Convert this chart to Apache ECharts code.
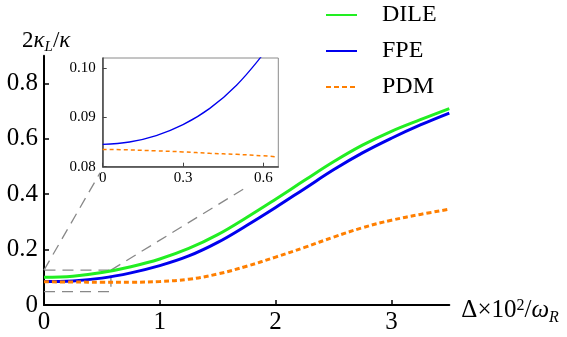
<!DOCTYPE html>
<html style="height: 100%">
   <head>
       <meta charset="utf-8">
   </head>
   <body style="height: 100%; margin: 0">
       <div id="container" style="height: 337px; width: 567px"></div>
       <script type="text/javascript" src="https://cdn.jsdelivr.net/npm/echarts/dist/echarts.min.js"></script>
       <script type="text/javascript">
// main panel, x = Delta*10^2/omega_R
var mainX = [0, 0.25, 0.5, 0.75, 1, 1.25, 1.5, 1.75, 2, 2.25, 2.5, 2.75, 3, 3.25, 3.5];
var dile = [0.100, 0.104, 0.117, 0.138, 0.166, 0.204, 0.254, 0.316, 0.382, 0.450, 0.517, 0.577, 0.627, 0.669, 0.709];
var fpe = [0.0845, 0.087, 0.097, 0.116, 0.142, 0.177, 0.226, 0.287, 0.352, 0.420, 0.488, 0.549, 0.602, 0.650, 0.693];
var pdm = [0.0837, 0.0830, 0.0822, 0.0820, 0.085, 0.093, 0.112, 0.140, 0.173, 0.208, 0.245, 0.279, 0.306, 0.327, 0.346];
var mainXTicks = [0, 1, 2, 3];
var mainYTicks = [0, 0.2, 0.4, 0.6, 0.8];

// inset (zoom on small detuning)
var insetX = [0, 0.1, 0.2, 0.3, 0.4, 0.5, 0.6, 0.65];
var fpeInset = [0.0845, 0.0850, 0.0863, 0.0885, 0.0918, 0.0965, 0.1028, 0.1065];
var pdmInset = [0.0835, 0.0834, 0.0832, 0.0830, 0.0827, 0.0825, 0.0822, 0.0820];
var insetXTicks = [0, 0.3, 0.6];
var insetYTicks = [0.08, 0.09, 0.10];

// dashed zoom marker and connectors (main-axis units)
var zoomBox = [[0, 0.048], [0.578, 0.048], [0.578, 0.126], [0, 0.126]];
var connLeft = [[0, 0.126], [0.484, 0.477]];
var connRight = [[0.578, 0.126], [1.736, 0.422]];

var serif = 'Liberation Serif, Times New Roman, serif';

function pairs(xs, ys) {
    var out = [];
    for (var i = 0; i < xs.length; i++) out.push([xs[i], ys[i]]);
    return out;
}

var dom = document.getElementById("container");
var myChart = echarts.init(dom);

var dashGray = {color: '#888', width: 1.3, type: [11, 7]};

function tok(size, italic, extra) {
    var t = {fontFamily: serif, fontSize: size, fontWeight: 'normal', fontStyle: italic ? 'italic' : 'normal',
             color: '#000', verticalAlign: 'top'};
    for (var k in extra) t[k] = extra[k];
    return t;
}

option = {
    animation: false,
    title: {
        text: '{n|2}{i|κ}{s|L}{n|/}{i|κ}',
        left: 17,
        top: 24,
        textStyle: {
            fontWeight: 'normal',
            rich: {
                n: tok(23, false, {lineHeight: 24}),
                i: tok(23, true, {lineHeight: 24}),
                s: tok(15, true, {lineHeight: 15, padding: [11, 0, 0, 0]})
            }
        }
    },
    legend: {
        orient: 'vertical',
        left: 325,
        top: 3,
        padding: 0,
        itemWidth: 31,
        itemHeight: 14,
        itemGap: 12,
        data: ['DILE', 'FPE', 'PDM'],
        itemStyle: {opacity: 0},
        textStyle: {fontFamily: serif, fontSize: 24, color: '#000', lineHeight: 24, padding: [0, 0, 0, 20]}
    },
    grid: [
        {left: 44, top: 55.7, width: 405.3, height: 249.3},
        {left: 102.7, top: 58, width: 175.6, height: 108.7, show: true,
         borderColor: '#8a8a8a', borderWidth: 1, backgroundColor: '#fff', z: 5}
    ],
    xAxis: [
        {
            type: 'value', gridIndex: 0, min: 0, max: 3.5,
            name: '{n|Δ×10}{sup|2}{n|/}{i|ω}{sub|R}',
            nameLocation: 'end', nameGap: 12,
            nameTextStyle: {
                padding: [10, 0, 0, 0],
                rich: {
                    n: tok(25, false, {lineHeight: 25}),
                    i: tok(25, true, {lineHeight: 25}),
                    sup: tok(16, false, {lineHeight: 16, padding: [0, 0, 12, 0]}),
                    sub: tok(16, true, {lineHeight: 16, padding: [12, 0, 0, 0]})
                }
            },
            axisLine: {lineStyle: {color: '#000', width: 2}},
            axisTick: {inside: true, length: 5, customValues: mainXTicks, lineStyle: {color: '#000', width: 1.5}},
            axisLabel: {customValues: mainXTicks, fontFamily: serif, fontSize: 25, color: '#000', margin: 5},
            splitLine: {show: false}
        },
        {
            type: 'value', gridIndex: 1, min: 0, max: 0.656,
            axisLine: {onZero: false, lineStyle: {color: '#444', width: 1.5}},
            axisTick: {inside: true, length: 4, customValues: insetXTicks, lineStyle: {color: '#444', width: 1}},
            axisLabel: {customValues: insetXTicks, fontFamily: serif, fontSize: 15, color: '#000', margin: 4,
                formatter: function (v) { return v === 0 ? '0' : v.toFixed(1); }},
            splitLine: {show: false},
            z: 6
        }
    ],
    yAxis: [
        {
            type: 'value', gridIndex: 0, min: 0, max: 0.9,
            axisLine: {lineStyle: {color: '#000', width: 2}},
            axisTick: {inside: true, length: 5, customValues: mainYTicks, lineStyle: {color: '#000', width: 1.5}},
            axisLabel: {customValues: mainYTicks, fontFamily: serif, fontSize: 25, color: '#000', margin: 6,
                formatter: function (v) { return v === 0 ? '0' : v.toFixed(1); }},
            splitLine: {show: false}
        },
        {
            type: 'value', gridIndex: 1, min: 0.08, max: 0.102,
            axisLine: {onZero: false, lineStyle: {color: '#444', width: 1.5}},
            axisTick: {inside: true, length: 4, customValues: insetYTicks, lineStyle: {color: '#444', width: 1}},
            axisLabel: {customValues: insetYTicks, fontFamily: serif, fontSize: 15, color: '#000', margin: 7,
                formatter: function (v) { return v.toFixed(2); }},
            splitLine: {show: false},
            z: 6
        }
    ],
    series: [
        {name: 'box', type: 'line', xAxisIndex: 0, yAxisIndex: 0, data: zoomBox, symbol: 'none', silent: true, lineStyle: dashGray, z: 1},
        {name: 'connL', type: 'line', xAxisIndex: 0, yAxisIndex: 0, data: connLeft, symbol: 'none', silent: true, lineStyle: dashGray, z: 1},
        {name: 'connR', type: 'line', xAxisIndex: 0, yAxisIndex: 0, data: connRight, symbol: 'none', silent: true, lineStyle: dashGray, z: 1},
        {name: 'DILE', type: 'line', xAxisIndex: 0, yAxisIndex: 0, data: pairs(mainX, dile), smooth: 0.4, symbol: 'none',
         color: '#22ee22', lineStyle: {color: '#22ee22', width: 3}},
        {name: 'FPE', type: 'line', xAxisIndex: 0, yAxisIndex: 0, data: pairs(mainX, fpe), smooth: 0.4, symbol: 'none',
         color: '#0000ee', lineStyle: {color: '#0000ee', width: 3}},
        {name: 'PDM', type: 'line', xAxisIndex: 0, yAxisIndex: 0, data: pairs(mainX, pdm), smooth: 0.4, symbol: 'none',
         color: '#ff7f00', lineStyle: {color: '#ff7f00', width: 3, type: [5, 3]}},
        {name: 'FPE inset', type: 'line', xAxisIndex: 1, yAxisIndex: 1, data: pairs(insetX, fpeInset), smooth: 0.4, symbol: 'none',
         clip: true, lineStyle: {color: '#0000ee', width: 1.3}, z: 7},
        {name: 'PDM inset', type: 'line', xAxisIndex: 1, yAxisIndex: 1, data: pairs(insetX, pdmInset), smooth: 0.4, symbol: 'none',
         clip: true, lineStyle: {color: '#ff7f00', width: 1.5, type: [4, 3]}, z: 7}
    ]
};

if (option && typeof option === "object") {
    myChart.setOption(option, true);
}
       </script>
   </body>
</html>
